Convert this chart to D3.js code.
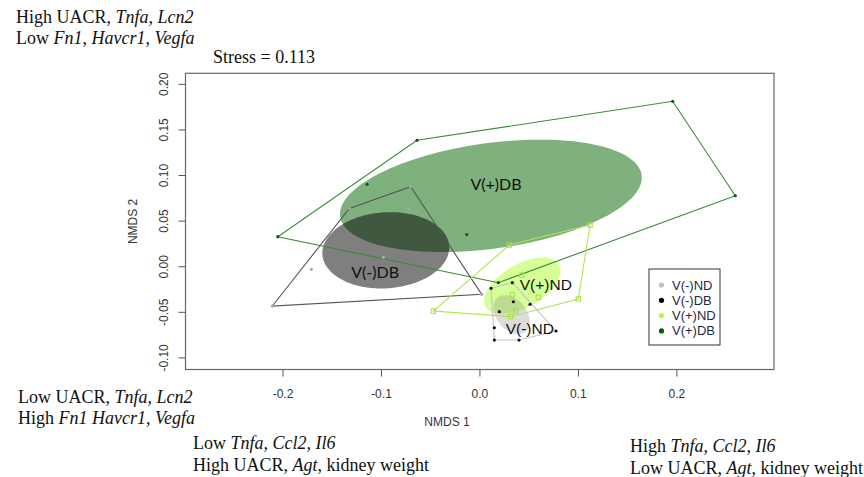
<!DOCTYPE html>
<html>
<head>
<meta charset="utf-8">
<style>
  body { margin: 0; background: #fff; }
  svg { display: block; }
</style>
</head>
<body>
<script src="https://cdn.jsdelivr.net/npm/d3@7/dist/d3.min.js"></script>
<script>

// data ///////////////////////////////////////////////////////////////////

var groups = ['V(-)ND', 'V(-)DB', 'V(+)ND', 'V(+)DB'];

// NMDS scores, one [x, y] per sample
var vmND = [[0.0113, -0.0237], [0.0329, -0.0175], [0.0509, -0.0412], [0.0773, -0.0705],
            [0.0397, -0.0804], [0.0146, -0.0804], [0.0146, -0.0669], [0.0197, -0.0493],
            [0.0339, -0.0384]];
var vmDB = [[-0.2108, -0.0431], [-0.1326, 0.0640], [-0.0703, 0.0877], [0.0018, -0.0303],
            [-0.0723, 0.0633], [-0.0981, 0.0103], [-0.1712, -0.0029]];
var vpND = [[-0.0473, -0.0486], [0.0298, 0.0238], [0.1118, 0.0457], [0.0999, -0.0354],
            [0.0311, -0.0548], [0.0424, -0.0091], [0.0329, -0.0310], [0.0593, -0.0336],
            [0.0363, -0.0486]];
var vpDB = [[-0.2053, 0.0329], [-0.0639, 0.1386], [0.1957, 0.1814], [0.2593, 0.0779],
            [0.0187, -0.0175], [-0.1146, 0.0904], [-0.0134, 0.0353]];

// ellipses: centre, first and second semi-axis vectors (NMDS units)
var ellipseCentre = [[0.0321, -0.0525], [-0.0956, 0.0180], [0.0430, -0.0209], [0.0111, 0.0777]];
var ellipseAxisA  = [[0.0143, -0.0185], [0.0644, 0.0046], [0.0372, 0.0232], [0.1531, 0.0228]];
var ellipseAxisB  = [[-0.0117, -0.0105], [0.0025, -0.0416], [0.0110, -0.0205], [0.0073, -0.0573]];

// group labels inside the plot
var labelPos = [[0.0506, -0.0738], [-0.1065, -0.0127], [0.0669, -0.0255], [0.0163, 0.0841]];

var xTicks = [-0.2, -0.1, 0.0, 0.1, 0.2];
var xTickLabels = ['-0.2', '-0.1', '0.0', '0.1', '0.2'];
var yTicks = [-0.10, -0.05, 0.00, 0.05, 0.10, 0.15, 0.20];
var yTickLabels = ['-0.10', '-0.05', '0.00', '0.05', '0.10', '0.15', '0.20'];

var stress = 0.113;

// layout /////////////////////////////////////////////////////////////////

var W = 864, H = 477;
var box = {left: 185.5, right: 774, top: 73.3, bottom: 369.5};

var svg = d3.select('body').append('svg')
	.attr('width', W).attr('height', H);

var x = d3.scaleLinear().domain([-0.299, 0.2986]).range([box.left, box.right]);
var y = d3.scaleLinear().domain([-0.1127, 0.2121]).range([box.bottom, box.top]);

var points    = [vmND, vmDB, vpND, vpDB];
var fills     = ['rgba(128,128,128,0.28)', 'rgba(0,0,0,0.5)', 'rgba(173,255,47,0.5)', 'rgba(0,100,0,0.5)'];
var hullCol   = ['#c4c4c4', '#555555', '#b0e64c', '#3b8a3b'];
var ptCol     = ['#111111', '#a8a8a8', '#a6e03c', '#0b5e0b'];
var legendCol = ['#c0c0c0', '#000000', '#adff2f', '#006400'];
var labelFont = ['"Liberation Sans", Arial', 'Lato, "Open Sans"', '"Liberation Sans", Arial', 'Lato, "Open Sans"'];
var labelSize = [15.5, 16, 15.5, 16];

// ellipses ///////////////////////////////////////////////////////////////

var drawOrder = [3, 1, 2, 0];
var line = d3.line();
var ang = d3.range(0, 2 * Math.PI, Math.PI / 60);

drawOrder.forEach(function(g) {
	var c = ellipseCentre[g], a = ellipseAxisA[g], b = ellipseAxisB[g];
	var pts = ang.map(t => [
		x(c[0] + a[0] * Math.cos(t) + b[0] * Math.sin(t)),
		y(c[1] + a[1] * Math.cos(t) + b[1] * Math.sin(t))]);
	svg.append('path')
		.attr('d', line(pts) + 'Z')
		.attr('fill', fills[g])
		.attr('stroke', 'none');
});

// hulls //////////////////////////////////////////////////////////////////

drawOrder.forEach(function(g) {
	var hull = d3.polygonHull(points[g].map(d => [x(d[0]), y(d[1])]));
	svg.append('path')
		.attr('d', line(hull) + 'Z')
		.attr('fill', 'none')
		.attr('stroke', hullCol[g])
		.attr('stroke-width', 1.1);
});

// points /////////////////////////////////////////////////////////////////

drawOrder.forEach(function(g) {
	var sel = svg.append('g').selectAll('.pt').data(points[g]);
	if (g == 2) {
		sel.join('rect')
			.attr('x', d => x(d[0]) - 2.2).attr('y', d => y(d[1]) - 2.2)
			.attr('width', 4.4).attr('height', 4.4)
			.attr('fill', 'none')
			.attr('stroke', ptCol[g]).attr('stroke-width', 1);
	} else {
		sel.join('circle')
			.attr('cx', d => x(d[0])).attr('cy', d => y(d[1]))
			.attr('r', 1.6)
			.attr('fill', ptCol[g]);
	}
});

// group labels

groups.forEach(function(name, g) {
	svg.append('text')
		.attr('x', x(labelPos[g][0])).attr('y', y(labelPos[g][1]))
		.attr('text-anchor', 'middle')
		.attr('font-family', labelFont[g])
		.attr('font-size', labelSize[g])
		.attr('fill', '#111')
		.text(name);
});

// box & axes /////////////////////////////////////////////////////////////

svg.append('rect')
	.attr('x', box.left).attr('y', box.top)
	.attr('width', box.right - box.left).attr('height', box.bottom - box.top)
	.attr('fill', 'none').attr('stroke', '#666').attr('stroke-width', 1.2);

var axisFont = '"Liberation Sans Narrow", "Liberation Sans", Arial, sans-serif';

var xa = svg.append('g').attr('transform', `translate(0,${box.bottom})`);
xa.selectAll('line').data(xTicks).join('line')
	.attr('x1', d => x(d)).attr('x2', d => x(d))
	.attr('y1', 0).attr('y2', 7)
	.attr('stroke', '#555');
xa.selectAll('text').data(xTicks).join('text')
	.attr('x', d => x(d)).attr('y', 28)
	.attr('text-anchor', 'middle')
	.attr('font-family', axisFont).attr('font-size', 12)
	.attr('fill', '#333')
	.text((d, i) => xTickLabels[i]);

var ya = svg.append('g').attr('transform', `translate(${box.left},0)`);
ya.selectAll('line').data(yTicks).join('line')
	.attr('y1', d => y(d)).attr('y2', d => y(d))
	.attr('x1', 0).attr('x2', -7)
	.attr('stroke', '#555');
ya.selectAll('text').data(yTicks).join('text')
	.attr('transform', d => `translate(-18,${y(d)}) rotate(-90)`)
	.attr('text-anchor', 'middle')
	.attr('font-family', axisFont).attr('font-size', 12)
	.attr('fill', '#333')
	.text((d, i) => yTickLabels[i]);

svg.append('text')
	.attr('x', 447).attr('y', 426)
	.attr('text-anchor', 'middle')
	.attr('font-family', axisFont).attr('font-size', 12)
	.attr('fill', '#333')
	.text('NMDS 1');
svg.append('text')
	.attr('transform', `translate(137,${(box.top + box.bottom) / 2}) rotate(-90)`)
	.attr('text-anchor', 'middle')
	.attr('font-family', axisFont).attr('font-size', 12)
	.attr('fill', '#333')
	.text('NMDS 2');

// legend /////////////////////////////////////////////////////////////////

var lg = svg.append('g').attr('transform', 'translate(649,269)');
lg.append('rect')
	.attr('width', 71).attr('height', 76)
	.attr('fill', '#fff').attr('stroke', '#444').attr('stroke-width', 1.1);
groups.forEach(function(name, i) {
	lg.append('circle')
		.attr('cx', 12.5).attr('cy', 16 + i * 15.3)
		.attr('r', 2.6)
		.attr('fill', legendCol[i]);
	lg.append('text')
		.attr('x', 23).attr('y', 20.5 + i * 15.3)
		.attr('font-family', '"Liberation Sans", Arial, sans-serif')
		.attr('font-size', 13)
		.attr('fill', '#1f2a44')
		.text(name);
});

// annotations ////////////////////////////////////////////////////////////

var serif = '"Liberation Serif", "Times New Roman", serif';

function note(px, py, parts) {
	var t = svg.append('text')
		.attr('x', px).attr('y', py)
		.attr('font-family', serif).attr('font-size', 18)
		.attr('fill', '#111');
	parts.forEach(p => {
		t.append('tspan')
			.attr('font-style', p[1] ? 'italic' : 'normal')
			.text(p[0]);
	});
}

note(16, 22.5, [['High UACR, ', 0], ['Tnfa, Lcn2', 1]]);
note(16, 44, [['Low ', 0], ['Fn1, Havcr1, Vegfa', 1]]);
note(213, 63, [['Stress = ' + stress.toFixed(3), 0]]);

note(18, 403, [['Low UACR, ', 0], ['Tnfa, Lcn2', 1]]);
note(18, 424, [['High ', 0], ['Fn1 Havcr1, Vegfa', 1]]);

note(193, 449, [['Low ', 0], ['Tnfa, Ccl2, Il6', 1]]);
note(193, 471, [['High UACR, ', 0], ['Agt', 1], [', kidney weight', 0]]);

note(630, 452, [['High ', 0], ['Tnfa, Ccl2, Il6', 1]]);
note(630, 474, [['Low UACR, ', 0], ['Agt', 1], [', kidney weight', 0]]);

</script>
</body>
</html>
